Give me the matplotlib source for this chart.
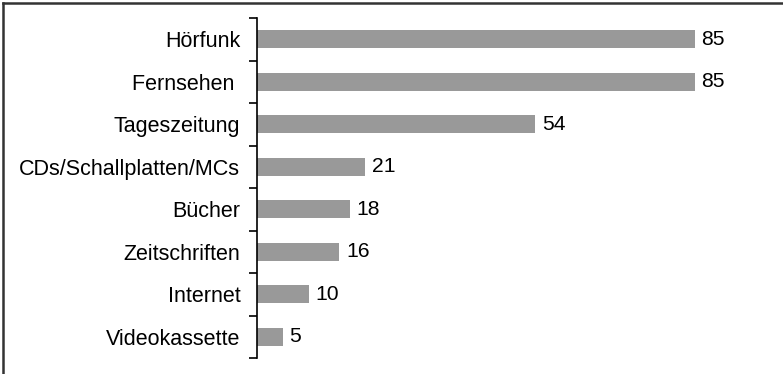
import numpy as np
import matplotlib.pyplot as plt
from matplotlib.lines import Line2D

plt.rcParams['font.family'] = ['Liberation Sans', 'DejaVu Sans']

categories = ['Hörfunk', 'Fernsehen ', 'Tageszeitung', 'CDs/Schallplatten/MCs',
              'Bücher', 'Zeitschriften', 'Internet', 'Videokassette']
values = [85, 85, 54, 21, 18, 16, 10, 5]

W, H = 783, 374
fig = plt.figure(figsize=(W / 100, H / 100), dpi=100)
ax = fig.add_axes([257 / W, 16 / H, 515 / W, 340 / H])

y = np.arange(len(categories))
ax.barh(y, values, height=0.43, color='#999999', zorder=2)
ax.set_ylim(len(categories) - 0.5, -0.5)
ax.set_xlim(0, 100)

ax.set_yticks(y)
ax.set_yticklabels(categories, fontsize=15.5)
ax.tick_params(axis='y', which='major', length=0, pad=12)
ax.set_yticks(np.arange(len(categories) + 1) - 0.5, minor=True)
ax.tick_params(axis='y', which='minor', length=6, width=1.2, direction='out')
ax.set_xticks([])

for s in ['top', 'right', 'bottom']:
    ax.spines[s].set_visible(False)
ax.spines['left'].set_linewidth(1.2)

for yi, v in zip(y, values):
    ax.text(v + 1.3, yi, str(v), va='center', ha='left', fontsize=15.2)

# Rahmen links und oben
fig.add_artist(Line2D([3 / W, 3 / W], [0, 1 - 3 / H], transform=fig.transFigure,
                      color='#333333', lw=1.8))
fig.add_artist(Line2D([3 / W, 1], [1 - 3 / H, 1 - 3 / H], transform=fig.transFigure,
                      color='#333333', lw=1.8))

fig.savefig('out.png', dpi=100)
